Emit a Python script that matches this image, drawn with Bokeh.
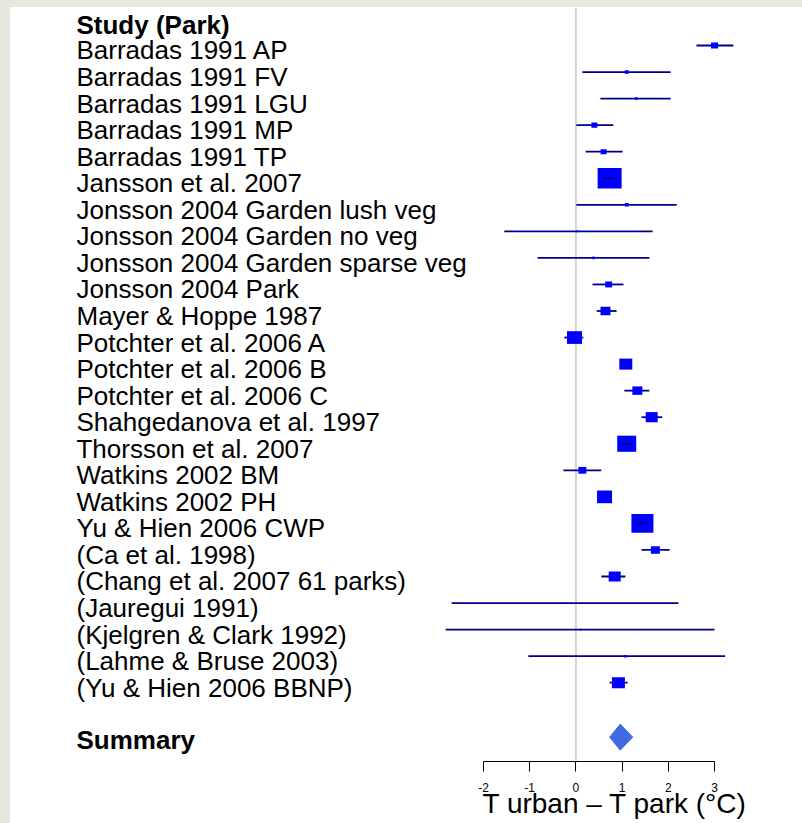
from bokeh.plotting import figure
from bokeh.models import ColumnDataSource, Range1d, LinearAxis, FixedTicker, Span, Spacer, Title
from bokeh.layouts import column, row
from bokeh.core.properties import value
from bokeh.embed import file_html
from bokeh.resources import INLINE

header = "Study (Park)"
studies = [
    "Barradas 1991 AP", "Barradas 1991 FV", "Barradas 1991 LGU", "Barradas 1991 MP",
    "Barradas 1991 TP", "Jansson et al. 2007", "Jonsson 2004 Garden lush veg",
    "Jonsson 2004 Garden no veg", "Jonsson 2004 Garden sparse veg", "Jonsson 2004 Park",
    "Mayer & Hoppe 1987", "Potchter et al. 2006 A", "Potchter et al. 2006 B",
    "Potchter et al. 2006 C", "Shahgedanova et al. 1997", "Thorsson et al. 2007",
    "Watkins 2002 BM", "Watkins 2002 PH", "Yu & Hien 2006 CWP", "(Ca et al. 1998)",
    "(Chang et al. 2007 61 parks)", "(Jauregui 1991)", "(Kjelgren & Clark 1992)",
    "(Lahme & Bruse 2003)", "(Yu & Hien 2006 BBNP)",
]
estimate = [3.00, 1.10, 1.31, 0.40, 0.60, 0.73, 1.10, 0.03, 0.38, 0.71, 0.64, -0.03, 1.08,
            1.33, 1.64, 1.10, 0.14, 0.62, 1.44, 1.72, 0.84, -0.23, 0.10, 1.07, 0.92]
lower = [2.61, 0.14, 0.53, 0.01, 0.21, 0.60, 0.01, -1.55, -0.83, 0.36, 0.45, -0.25, 0.96,
         1.05, 1.42, 0.97, -0.27, 0.49, 1.33, 1.42, 0.55, -2.69, -2.82, -1.03, 0.73]
upper = [3.41, 2.05, 2.05, 0.81, 1.01, 0.81, 2.18, 1.66, 1.59, 1.03, 0.88, 0.16, 1.20,
         1.59, 1.87, 1.23, 0.55, 0.75, 1.55, 2.03, 1.07, 2.22, 3.00, 3.23, 1.12]
box_weight = [7, 4, 3, 6, 6, 24, 4, 2, 3, 7, 10, 15, 13, 10, 12, 19, 8, 15, 22, 9, 12, 2, 2, 3, 13]

summary_label = "Summary"
summary_est = 0.96
summary_lower = 0.73
summary_upper = 1.23

tick_values = [-2, -1, 0, 1, 2, 3]
tick_labels = ["-2", "-1", "0", "1", "2", "3"]
x_title = "T urban \u2013 T park (\u00b0C)"

FONT = "Liberation Sans"
PX_PER_UNIT = 46.2
rows = list(range(len(studies)))
summary_row = len(studies) + 1.05

src = ColumnDataSource(dict(
    y=rows, est=estimate, lo=lower, hi=upper,
    bw=box_weight, bh=[w / 1.18 for w in box_weight], label=studies,
))
narrow = [i for i in rows if (upper[i] - lower[i]) * PX_PER_UNIT < 0.7 * box_weight[i]]
src_narrow = ColumnDataSource(dict(
    y=[rows[i] for i in narrow], lo=[lower[i] for i in narrow], hi=[upper[i] for i in narrow],
))

p = figure(width=792, height=816, output_backend="svg", toolbar_location=None,
           x_range=Range1d(-565.4 / PX_PER_UNIT, (792 - 565.4) / PX_PER_UNIT),
           y_range=Range1d(26.968, -1.431),
           x_axis_type=None, y_axis_type=None,
           min_border_left=0, min_border_right=0, min_border_top=0, min_border_bottom=62,
           styles={"background-color": "white"})
p.outline_line_color = None
p.background_fill_color = "white"
p.border_fill_color = "white"
p.xgrid.visible = False
p.ygrid.visible = False

p.add_layout(Span(location=0, dimension="height", line_color="#d3d3d3", line_width=2,
                  level="underlay"))

p.segment(x0="lo", y0="y", x1="hi", y1="y", source=src, line_color="#00008B", line_width=1.8)
p.rect(x="est", y="y", width="bw", height="bh", width_units="screen", height_units="screen",
       source=src, fill_color="#0000FF", line_color=None)
p.segment(x0="lo", y0="y", x1="hi", y1="y", source=src_narrow, line_color="#00008B",
          line_width=1.8)

h = 13 / 26.55
p.patch(x=[summary_lower, summary_est, summary_upper, summary_est],
        y=[summary_row, summary_row - h, summary_row, summary_row + h],
        fill_color="#4169E1", line_color="#4169E1")

label_x = -10.81
p.text(x=label_x, y="y", text="label", source=src, text_font=value(FONT),
       text_font_size="26px", text_baseline="middle", text_align="left", y_offset=5,
       text_color="black")
p.text(x=[label_x], y=[-1], text=[header], text_font=value(FONT), text_font_size="26px",
       text_font_style="bold", text_baseline="middle", y_offset=6, text_color="black")
p.text(x=[label_x], y=[summary_row], text=[summary_label], text_font=value(FONT),
       text_font_size="26px", text_font_style="bold", text_baseline="middle", y_offset=3,
       text_color="black")

ax = LinearAxis(bounds=(-2, 3), ticker=FixedTicker(ticks=tick_values),
                major_label_overrides={v: s for v, s in zip(tick_values, tick_labels)},
                major_tick_out=10, major_tick_in=0, minor_tick_out=0, minor_tick_in=0,
                axis_line_color="black", major_tick_line_color="black",
                major_label_text_font=FONT, major_label_text_font_size="12px",
                major_label_text_color="black", major_label_standoff=11)
p.add_layout(ax, "below")

p.add_layout(Title(text=x_title, align="left", offset=472, standoff=-14, vertical_align="top",
                   text_font=FONT, text_font_size="28px", text_font_style="normal",
                   text_color="black"), "below")

layout = column(Spacer(width=802, height=7),
                row(Spacer(width=10, height=816), p),
                styles={"background-color": "#e7e8de"})

open("out.html", "w").write(file_html(layout, INLINE))
